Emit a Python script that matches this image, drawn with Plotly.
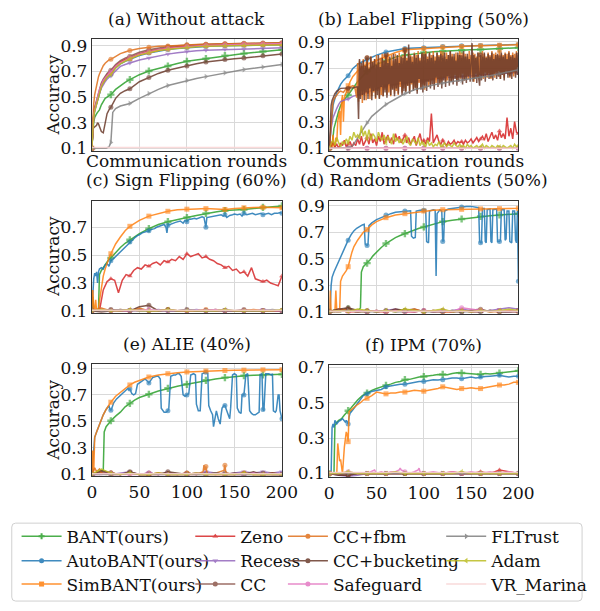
import plotly.graph_objects as go

W, H = 600, 611
FONT = "DejaVu Serif"

# ---------------- series definitions ----------------
NAMES = ["BANT(ours)", "AutoBANT(ours)", "SimBANT(ours)", "Zeno", "Recess", "CC",
         "CC+fbm", "CC+bucketing", "Safeguard", "FLTrust", "Adam", "VR_Marina"]
COLORS = ["#2ca02c", "#1f77b4", "#ff7f0e", "#d62728", "#9467bd", "#8c564b",
          "#e0701c", "#6b3b2c", "#e377c2", "#7f7f7f", "#bcbd22", "#f9d4d4"]
SYMBOLS = ["cross", "circle", "square", "triangle-up", "triangle-down", "circle",
           "circle", "circle", "circle", "triangle-right", "triangle-left", "cross-thin"]

PANEL_TITLES = ["(a) Without attack", "(b) Label Flipping (50%)", "(c) Sign Flipping (60%)",
                "(d) Random Gradients (50%)", "(e) ALIE (40%)", "(f) IPM (70%)"]
X_TICKS = [0, 50, 100, 150, 200]
Y_TICKS_DEFAULT = [0.1, 0.3, 0.5, 0.7, 0.9]
Y_TICKS_SHORT = [0.1, 0.3, 0.5, 0.7]

# ---------------- (a) Without attack ----------------
XA = [0, 1, 2, 3, 4, 5, 6, 7, 8, 10, 12, 14, 16, 18, 20, 25, 30, 35, 40, 50, 60, 70, 80, 90,
      100, 110, 120, 130, 140, 150, 160, 170, 180, 190, 200]
A_BANT = [0.10, 0.25, 0.31, 0.34, 0.36, 0.37, 0.38, 0.39, 0.40, 0.44, 0.47, 0.49, 0.50, 0.51,
          0.519, 0.56, 0.59, 0.615, 0.636, 0.675, 0.704, 0.725, 0.743, 0.762, 0.78, 0.79, 0.80,
          0.812, 0.824, 0.832, 0.84, 0.848, 0.857, 0.864, 0.87]
A_AUTO = [0.10, 0.28, 0.35, 0.39, 0.42, 0.45, 0.48, 0.51, 0.54, 0.58, 0.61, 0.635, 0.655, 0.668,
          0.678, 0.73, 0.76, 0.78, 0.795, 0.825, 0.845, 0.86, 0.872, 0.88, 0.887, 0.892, 0.896,
          0.899, 0.901, 0.903, 0.905, 0.906, 0.907, 0.908, 0.909]
A_SIM = [0.10, 0.30, 0.36, 0.40, 0.43, 0.46, 0.49, 0.52, 0.55, 0.59, 0.62, 0.645, 0.665, 0.68,
         0.69, 0.74, 0.77, 0.79, 0.80, 0.83, 0.85, 0.865, 0.877, 0.886, 0.893, 0.898, 0.902,
         0.905, 0.907, 0.909, 0.91, 0.911, 0.912, 0.913, 0.914]
A_ZENO = [0.10, 0.31, 0.37, 0.41, 0.44, 0.47, 0.50, 0.53, 0.56, 0.60, 0.63, 0.655, 0.675, 0.69,
          0.70, 0.745, 0.775, 0.795, 0.81, 0.84, 0.86, 0.875, 0.885, 0.893, 0.90, 0.905, 0.908,
          0.911, 0.913, 0.915, 0.916, 0.917, 0.918, 0.919, 0.92]
A_RECESS = [0.10, 0.30, 0.36, 0.40, 0.43, 0.46, 0.49, 0.51, 0.53, 0.57, 0.60, 0.62, 0.64, 0.655,
            0.665, 0.71, 0.74, 0.755, 0.767, 0.79, 0.806, 0.822, 0.836, 0.847, 0.857, 0.862,
            0.866, 0.869, 0.872, 0.874, 0.876, 0.878, 0.88, 0.882, 0.885]
A_CC = [0.10, 0.32, 0.38, 0.42, 0.45, 0.48, 0.51, 0.54, 0.57, 0.61, 0.64, 0.665, 0.685, 0.70,
        0.71, 0.755, 0.785, 0.805, 0.82, 0.85, 0.87, 0.885, 0.895, 0.902, 0.907, 0.911, 0.914,
        0.916, 0.918, 0.92, 0.921, 0.922, 0.923, 0.924, 0.925]
A_CCFBM = [0.10, 0.35, 0.45, 0.52, 0.56, 0.59, 0.63, 0.66, 0.68, 0.72, 0.745, 0.765, 0.78, 0.79,
           0.795, 0.82, 0.84, 0.853, 0.865, 0.88, 0.89, 0.897, 0.90, 0.905, 0.91, 0.912, 0.914,
           0.916, 0.917, 0.918, 0.919, 0.92, 0.921, 0.922, 0.923]
A_CCBUCK = [0.10, 0.25, 0.26, 0.265, 0.27, 0.28, 0.30, 0.29, 0.27, 0.23, 0.22, 0.30, 0.37, 0.40,
            0.42, 0.49, 0.53, 0.55, 0.565, 0.62, 0.654, 0.685, 0.71, 0.728, 0.743, 0.76, 0.775,
            0.785, 0.793, 0.80, 0.806, 0.815, 0.824, 0.83, 0.837]
A_SAFE = [0.10, 0.30, 0.36, 0.40, 0.44, 0.47, 0.50, 0.53, 0.56, 0.60, 0.63, 0.65, 0.67, 0.685,
          0.695, 0.74, 0.77, 0.79, 0.805, 0.835, 0.855, 0.87, 0.88, 0.888, 0.895, 0.90, 0.904,
          0.907, 0.91, 0.912, 0.914, 0.915, 0.916, 0.917, 0.918]
A_ADAM = [0.10, 0.29, 0.35, 0.39, 0.42, 0.45, 0.48, 0.51, 0.54, 0.58, 0.61, 0.635, 0.655, 0.665,
          0.675, 0.725, 0.76, 0.78, 0.80, 0.83, 0.85, 0.865, 0.875, 0.883, 0.89, 0.894, 0.897,
          0.90, 0.902, 0.903, 0.904, 0.905, 0.906, 0.907, 0.908]
XA_FL = [0, 5, 10, 15, 18, 20, 22, 25, 30, 35, 40, 50, 60, 70, 80, 90, 100, 110, 120, 130, 140,
         150, 160, 170, 180, 190, 200]
A_FLTRUST = [0.10, 0.10, 0.10, 0.10, 0.11, 0.145, 0.38, 0.41, 0.43, 0.44, 0.45, 0.49, 0.527,
             0.56, 0.59, 0.61, 0.63, 0.645, 0.66, 0.675, 0.69, 0.70, 0.715, 0.725, 0.735,
             0.745, 0.755]
X20 = [0, 20, 40, 60, 80, 100, 120, 140, 160, 180, 200]
A_VR = [0.105, 0.105, 0.105, 0.105, 0.105, 0.105, 0.105, 0.105, 0.105, 0.105, 0.105]

# ---------------- (b) Label Flipping ----------------
B_BANT_X = [0, 3, 5, 6, 8, 10, 12, 15, 20, 25, 30, 35, 40, 50, 60, 70, 80, 90, 100, 110, 120,
            130, 140, 150, 160, 170, 180, 190, 200]
B_BANT = [0.10, 0.12, 0.25, 0.28, 0.33, 0.38, 0.42, 0.46, 0.50, 0.55, 0.60, 0.64, 0.68, 0.73,
          0.76, 0.785, 0.80, 0.81, 0.82, 0.825, 0.83, 0.835, 0.837, 0.84, 0.842, 0.845, 0.848,
          0.852, 0.856]
B_AUTO_X = [0, 1, 2, 3, 4, 5, 6, 8, 10, 12, 15, 20, 25, 30, 35, 40, 50, 60, 70, 80, 90, 100,
            110, 120, 130, 140, 150, 160, 170, 180, 190, 200]
B_AUTO = [0.10, 0.20, 0.30, 0.38, 0.42, 0.45, 0.48, 0.52, 0.55, 0.58, 0.61, 0.645, 0.70, 0.73,
          0.75, 0.768, 0.80, 0.824, 0.838, 0.849, 0.853, 0.856, 0.86, 0.865, 0.868, 0.87, 0.872,
          0.873, 0.874, 0.875, 0.877, 0.88]
B_SIM_X = [0, 1, 2, 3, 4, 5, 6, 7, 8, 9, 10, 11, 12, 13, 14, 15, 16, 18, 20, 22, 25, 30, 35, 40,
           50, 60, 70, 80, 90, 100, 110, 120, 130, 140, 150, 160, 170, 180, 190, 200]
B_SIM = [0.10, 0.12, 0.15, 0.10, 0.20, 0.12, 0.10, 0.18, 0.15, 0.30, 0.35, 0.38, 0.20, 0.45,
         0.50, 0.30, 0.48, 0.52, 0.57, 0.60, 0.64, 0.68, 0.71, 0.73, 0.76, 0.79, 0.82, 0.84,
         0.845, 0.85, 0.855, 0.86, 0.862, 0.865, 0.868, 0.87, 0.872, 0.874, 0.876, 0.878]
X2 = list(range(0, 201, 2))
B_ZENO = [0.10, 0.12, 0.15, 0.11, 0.13, 0.10, 0.14, 0.12, 0.16, 0.11,
          0.13, 0.15, 0.11, 0.14, 0.12, 0.17, 0.13, 0.19, 0.12, 0.15,
          0.18, 0.13, 0.21, 0.14, 0.17, 0.12, 0.19, 0.15, 0.22, 0.13,
          0.17, 0.20, 0.14, 0.18, 0.13, 0.21, 0.16, 0.19, 0.14, 0.17,
          0.20, 0.14, 0.18, 0.13, 0.16, 0.19, 0.12, 0.17, 0.21, 0.14,
          0.16, 0.13, 0.18, 0.15, 0.36, 0.14, 0.17, 0.20, 0.15, 0.13,
          0.16, 0.14, 0.12, 0.15, 0.13, 0.14, 0.16, 0.13, 0.15, 0.14,
          0.15, 0.13, 0.16, 0.14, 0.15, 0.17, 0.14, 0.16, 0.18, 0.15,
          0.17, 0.19, 0.16, 0.21, 0.15, 0.18, 0.22, 0.17, 0.20, 0.16,
          0.23, 0.18, 0.21, 0.17, 0.33, 0.19, 0.25, 0.17, 0.30, 0.22,
          0.21]
B_ADAM = [0.10, 0.13, 0.16, 0.12, 0.18, 0.14, 0.11, 0.15, 0.13, 0.17,
          0.14, 0.19, 0.16, 0.22, 0.18, 0.20, 0.17, 0.27, 0.19, 0.23,
          0.17, 0.24, 0.16, 0.21, 0.19, 0.15, 0.22, 0.18, 0.16, 0.20,
          0.14, 0.19, 0.16, 0.13, 0.21, 0.15, 0.18, 0.14, 0.17, 0.13,
          0.16, 0.19, 0.14, 0.12, 0.17, 0.15, 0.13, 0.18, 0.12, 0.15,
          0.13, 0.11, 0.16, 0.12, 0.14, 0.11, 0.13, 0.12, 0.15, 0.11,
          0.12, 0.14, 0.11, 0.13, 0.12, 0.11, 0.14, 0.12, 0.11, 0.13,
          0.11, 0.12, 0.10, 0.13, 0.11, 0.12, 0.10, 0.11, 0.12, 0.10,
          0.11, 0.13, 0.10, 0.12, 0.11, 0.10, 0.12, 0.11, 0.10, 0.12,
          0.11, 0.10, 0.12, 0.11, 0.10, 0.11, 0.12, 0.10, 0.13, 0.11,
          0.12]
B_RECESS_X = [0, 2, 4, 6, 8, 10, 12, 15, 20, 25, 30, 40, 50, 60, 80, 100, 120, 140, 160, 180, 200]
B_RECESS = [0.10, 0.25, 0.33, 0.37, 0.40, 0.43, 0.45, 0.46, 0.47, 0.49, 0.50, 0.52, 0.55, 0.57,
            0.59, 0.61, 0.63, 0.64, 0.65, 0.655, 0.67]
B_FL_X = [0, 10, 20, 25, 30, 35, 40, 45, 50, 55, 60, 70, 80, 90, 100, 110, 120, 130, 140, 150,
          160, 170, 180, 190, 200]
B_FLTRUST = [0.10, 0.10, 0.10, 0.12, 0.18, 0.24, 0.29, 0.34, 0.37, 0.40, 0.43, 0.47, 0.51, 0.54,
             0.56, 0.575, 0.59, 0.60, 0.61, 0.62, 0.63, 0.645, 0.66, 0.675, 0.69]
B_FBM_X = [0, 1, 2, 3, 4, 5, 6, 8, 10, 12, 15, 18, 20, 22, 25, 27] + list(range(29, 200))
B_CCFBM = [0.10, 0.20, 0.33, 0.40, 0.45, 0.47, 0.48, 0.50, 0.52, 0.53, 0.52, 0.55, 0.53, 0.56,
           0.57, 0.56,
           0.48, 0.74, 0.45, 0.76, 0.49, 0.72, 0.44, 0.77, 0.50, 0.73,
           0.46, 0.78, 0.51, 0.71, 0.47, 0.79, 0.49, 0.74, 0.52, 0.77,
           0.47, 0.80, 0.53, 0.75, 0.48, 0.78, 0.50, 0.81, 0.49, 0.76,
           0.54, 0.79, 0.50, 0.82, 0.52, 0.77, 0.49, 0.80, 0.55, 0.76,
           0.51, 0.81, 0.53, 0.78, 0.50, 0.82, 0.56, 0.79, 0.52, 0.80,
           0.55, 0.83, 0.53, 0.78, 0.57, 0.82, 0.52, 0.80, 0.58, 0.79,
           0.54, 0.82, 0.56, 0.80, 0.53, 0.83, 0.59, 0.78, 0.55, 0.81,
           0.57, 0.80, 0.54, 0.83, 0.60, 0.79, 0.56, 0.82, 0.58, 0.80,
           0.61, 0.83, 0.57, 0.79, 0.59, 0.82, 0.62, 0.80, 0.58, 0.83,
           0.60, 0.81, 0.63, 0.79, 0.59, 0.82, 0.61, 0.80, 0.64, 0.83,
           0.60, 0.81, 0.62, 0.79, 0.65, 0.82, 0.61, 0.80, 0.63, 0.83,
           0.62, 0.80, 0.66, 0.82, 0.61, 0.81, 0.64, 0.79, 0.62, 0.83,
           0.65, 0.80, 0.63, 0.82, 0.60, 0.81, 0.66, 0.79, 0.63, 0.82,
           0.61, 0.80, 0.65, 0.83, 0.62, 0.81, 0.67, 0.79, 0.63, 0.82,
           0.66, 0.80, 0.62, 0.83, 0.65, 0.81, 0.63, 0.82, 0.67, 0.80,
           0.64, 0.83, 0.62, 0.81, 0.66, 0.80, 0.63, 0.82, 0.68, 0.81,
           0.65, 0.83, 0.63, 0.80, 0.67, 0.82, 0.64, 0.81, 0.66, 0.83,
           0.70]
B_BUCK_X = list(range(0, 10)) + [10, 12, 14, 16, 18, 20, 22, 24, 26, 28] + list(range(30, 201))
B_CCBUCK = [0.10, 0.32, 0.42, 0.46, 0.48, 0.50, 0.51, 0.52, 0.53, 0.53,
            0.54, 0.55, 0.55, 0.55, 0.55, 0.55, 0.555, 0.55, 0.555, 0.56,
            0.56, 0.32, 0.77, 0.47, 0.74, 0.50, 0.76, 0.46, 0.72, 0.52,
            0.78, 0.47, 0.70, 0.55, 0.79, 0.46, 0.75, 0.53, 0.77, 0.48,
            0.73, 0.50, 0.80, 0.47, 0.71, 0.56, 0.78, 0.49, 0.76, 0.52,
            0.80, 0.48, 0.74, 0.58, 0.79, 0.50, 0.72, 0.54, 0.81, 0.49,
            0.77, 0.55, 0.80, 0.51, 0.74, 0.60, 0.79, 0.50, 0.78, 0.53,
            0.84, 0.52, 0.76, 0.57, 0.88, 0.51, 0.79, 0.59, 0.75, 0.53,
            0.81, 0.55, 0.78, 0.51, 0.80, 0.62, 0.76, 0.54, 0.82, 0.52,
            0.79, 0.57, 0.81, 0.53, 0.77, 0.60, 0.82, 0.55, 0.78, 0.58,
            0.80, 0.54, 0.76, 0.63, 0.82, 0.56, 0.79, 0.59, 0.81, 0.55,
            0.78, 0.61, 0.82, 0.56, 0.77, 0.64, 0.80, 0.57, 0.83, 0.60,
            0.79, 0.58, 0.81, 0.62, 0.76, 0.57, 0.82, 0.60, 0.80, 0.63,
            0.78, 0.58, 0.83, 0.61, 0.79, 0.59, 0.81, 0.64, 0.77, 0.60,
            0.82, 0.89, 0.60, 0.80, 0.62, 0.78, 0.59, 0.82, 0.63, 0.57,
            0.80, 0.61, 0.79, 0.64, 0.82, 0.60, 0.78, 0.65, 0.81, 0.62,
            0.79, 0.63, 0.82, 0.61, 0.77, 0.66, 0.80, 0.62, 0.81, 0.64,
            0.78, 0.62, 0.82, 0.65, 0.79, 0.61, 0.81, 0.66, 0.77, 0.63,
            0.82, 0.64, 0.79, 0.62, 0.80, 0.67, 0.78, 0.63, 0.82, 0.65,
            0.80]
B_CC = [0.10, 0.10, 0.10, 0.10, 0.10, 0.10, 0.10, 0.10, 0.10, 0.10, 0.10]
B_SAFE = [0.10, 0.10, 0.10, 0.10, 0.10, 0.10, 0.10, 0.10, 0.10, 0.10, 0.10]
B_VR = [0.10, 0.10, 0.10, 0.10, 0.10, 0.10, 0.10, 0.10, 0.10, 0.10, 0.10]

# ---------------- low-level runs on a 10-round grid ----------------
X10 = list(range(0, 201, 10))

# ---------------- (c) Sign Flipping ----------------
C_SIM_X = [0, 1, 2, 3, 4, 5, 6, 7, 8, 9, 10, 12, 14, 16, 18, 20, 25, 30, 35, 40, 50, 60, 70, 80,
           90, 100, 110, 120, 130, 140, 150, 160, 170, 180, 190, 200]
C_SIM = [0.10, 0.25, 0.12, 0.10, 0.18, 0.10, 0.10, 0.12, 0.17, 0.22, 0.28, 0.35, 0.40, 0.45,
         0.48, 0.51, 0.58, 0.63, 0.675, 0.707, 0.75, 0.78, 0.80, 0.815, 0.825, 0.83, 0.832,
         0.834, 0.83, 0.828, 0.835, 0.84, 0.842, 0.843, 0.842, 0.84]
C_BANT_X = [0, 1, 2, 4, 6, 7, 8, 10, 12, 14, 16, 18, 20, 25, 30, 35, 40, 50, 60, 70, 80, 90, 100,
            110, 120, 130, 140, 150, 160, 170, 180, 190, 200]
C_BANT = [0.10, 0.20, 0.10, 0.10, 0.10, 0.11, 0.36, 0.39, 0.41, 0.43, 0.45, 0.47, 0.48, 0.52,
          0.555, 0.585, 0.61, 0.655, 0.69, 0.72, 0.74, 0.757, 0.77, 0.785, 0.80, 0.81, 0.82,
          0.823, 0.827, 0.835, 0.843, 0.848, 0.853]
C_AUTO_X = [0, 1, 2, 3, 4, 5, 6, 7, 8, 10, 12, 14, 16, 18, 20, 22, 25, 28, 30, 33, 36, 38, 40,
            43, 46, 48, 50, 53, 56, 58, 60, 63, 66, 68, 70, 72, 74, 76, 78, 79, 80, 83, 86, 88,
            90, 93, 96, 98, 100, 102, 105, 108, 110, 113, 116, 118, 120, 121, 124, 127, 130,
            133, 136, 138, 140, 142, 145, 148, 150, 153, 156, 158, 160, 163, 166, 169, 172,
            175, 178, 180, 183, 186, 189, 192, 195, 198, 200]
C_AUTO = [0.10, 0.25, 0.33, 0.37, 0.35, 0.38, 0.30, 0.38, 0.40, 0.41, 0.40, 0.43, 0.44, 0.42,
          0.46, 0.47, 0.49, 0.51, 0.53, 0.55, 0.57, 0.58, 0.595, 0.61, 0.63, 0.64, 0.645, 0.66,
          0.665, 0.67, 0.675, 0.685, 0.69, 0.70, 0.705, 0.71, 0.71, 0.72, 0.70, 0.66, 0.715,
          0.725, 0.73, 0.735, 0.74, 0.745, 0.73, 0.75, 0.74, 0.755, 0.76, 0.765, 0.76, 0.77,
          0.775, 0.77, 0.70, 0.77, 0.775, 0.78, 0.78, 0.785, 0.79, 0.78, 0.79, 0.77, 0.785,
          0.79, 0.795, 0.79, 0.795, 0.78, 0.80, 0.79, 0.795, 0.80, 0.79, 0.795, 0.80, 0.79,
          0.795, 0.80, 0.79, 0.80, 0.80, 0.805, 0.80]
X4 = list(range(0, 201, 4))
C_ZENO = [0.10, 0.10, 0.10, 0.25, 0.31, 0.33, 0.32, 0.23, 0.32, 0.36,
          0.35, 0.39, 0.41, 0.40, 0.43, 0.42, 0.44, 0.45, 0.43, 0.46,
          0.45, 0.47, 0.46, 0.49, 0.47, 0.51, 0.49, 0.50, 0.51, 0.48,
          0.49, 0.47, 0.46, 0.44, 0.43, 0.41, 0.42, 0.39, 0.40, 0.37,
          0.38, 0.35, 0.41, 0.33, 0.32, 0.31, 0.32, 0.30, 0.29, 0.28,
          0.35]
C_RECESS = [0.10, 0.11, 0.10, 0.10, 0.11, 0.10, 0.10, 0.11, 0.10, 0.10,
            0.10, 0.11, 0.10, 0.10, 0.11, 0.10, 0.10, 0.10, 0.11, 0.10, 0.10]
C_CC = [0.10, 0.09, 0.10, 0.10, 0.10, 0.11, 0.10, 0.10, 0.10, 0.10,
        0.11, 0.10, 0.10, 0.10, 0.10, 0.10, 0.11, 0.10, 0.10, 0.10, 0.10]
C_CCFBM = [0.10, 0.12, 0.10, 0.11, 0.10, 0.12, 0.10, 0.10, 0.11, 0.10,
           0.10, 0.10, 0.11, 0.10, 0.10, 0.10, 0.10, 0.11, 0.10, 0.10, 0.10]
C_CCBUCK = [0.10, 0.10, 0.11, 0.10, 0.10, 0.13, 0.14, 0.10, 0.11, 0.10,
            0.10, 0.10, 0.10, 0.11, 0.10, 0.10, 0.10, 0.10, 0.10, 0.10, 0.10]
C_SAFE = [0.10, 0.11, 0.10, 0.10, 0.10, 0.10, 0.11, 0.10, 0.10, 0.10,
          0.10, 0.10, 0.10, 0.11, 0.10, 0.10, 0.10, 0.10, 0.10, 0.10, 0.10]
C_FLTRUST = [0.10, 0.10, 0.10, 0.11, 0.10, 0.10, 0.10, 0.10, 0.10, 0.10,
             0.11, 0.10, 0.10, 0.10, 0.10, 0.10, 0.10, 0.10, 0.10, 0.11, 0.10]
C_ADAM = [0.10, 0.11, 0.10, 0.10, 0.11, 0.10, 0.10, 0.10, 0.11, 0.10,
          0.10, 0.10, 0.10, 0.10, 0.11, 0.10, 0.10, 0.10, 0.10, 0.10, 0.11]
C_VR = [0.105, 0.105, 0.105, 0.105, 0.105, 0.105, 0.105, 0.105, 0.105, 0.105,
        0.105, 0.105, 0.105, 0.105, 0.105, 0.105, 0.105, 0.105, 0.105, 0.105, 0.105]

# ---------------- (d) Random Gradients ----------------
D_AUTO_PTS = [(0, 0.10), (1, 0.12), (2, 0.30), (3, 0.36), (5, 0.40), (8, 0.45), (10, 0.48),
              (12, 0.52), (15, 0.57), (18, 0.62), (20, 0.64), (23, 0.68), (26, 0.71), (29, 0.73),
              (32, 0.745), (35, 0.755), (37, 0.76), (38, 0.61), (40, 0.60), (41, 0.61),
              (42, 0.75), (45, 0.77), (50, 0.795), (55, 0.81), (60, 0.83), (65, 0.84), (70, 0.85),
              (75, 0.855), (80, 0.86), (86, 0.862), (87, 0.67), (89, 0.655), (91, 0.66),
              (92, 0.86), (96, 0.865), (100, 0.865), (102, 0.87), (103, 0.63), (105, 0.62),
              (106, 0.86), (110, 0.87), (112, 0.865), (113, 0.37), (114, 0.84), (117, 0.87),
              (119, 0.86), (120, 0.63), (121, 0.64), (122, 0.86), (126, 0.875), (130, 0.88),
              (135, 0.885), (140, 0.89), (145, 0.895), (150, 0.895), (155, 0.89), (158, 0.885),
              (159, 0.63), (160, 0.62), (161, 0.62), (162, 0.88), (164, 0.88), (165, 0.63),
              (166, 0.62), (167, 0.87), (170, 0.875), (171, 0.63), (172, 0.62), (173, 0.87),
              (177, 0.875), (178, 0.63), (180, 0.63), (181, 0.64), (182, 0.87), (185, 0.87),
              (186, 0.64), (187, 0.65), (188, 0.86), (190, 0.86), (191, 0.63), (193, 0.62),
              (194, 0.86), (196, 0.86), (197, 0.64), (198, 0.62), (199, 0.86), (200, 0.33)]
D_SIM_PTS = [(0, 0.10), (1, 0.26), (2, 0.10), (3, 0.10), (5, 0.10), (6, 0.10), (7, 0.26),
             (8, 0.10), (10, 0.10), (11, 0.10), (12, 0.33), (13, 0.35), (14, 0.37), (16, 0.39),
             (18, 0.41), (20, 0.44), (22, 0.50), (24, 0.55), (26, 0.59), (28, 0.62), (30, 0.64),
             (33, 0.67), (36, 0.70), (40, 0.72), (45, 0.755), (50, 0.78), (55, 0.795),
             (60, 0.81), (70, 0.83), (80, 0.84), (90, 0.85), (100, 0.86), (110, 0.865),
             (120, 0.87), (130, 0.872), (140, 0.873), (150, 0.875), (160, 0.876), (170, 0.877),
             (180, 0.878), (190, 0.879), (200, 0.88)]
D_BANT_PTS = [(0, 0.10), (4, 0.11), (8, 0.12), (12, 0.10), (16, 0.11), (20, 0.12), (24, 0.11),
              (28, 0.10), (32, 0.12), (33, 0.13), (34, 0.40), (36, 0.44), (38, 0.455),
              (40, 0.467), (43, 0.49), (46, 0.52), (50, 0.55), (55, 0.585), (60, 0.615),
              (65, 0.64), (70, 0.66), (75, 0.675), (80, 0.69), (85, 0.705), (90, 0.72),
              (95, 0.73), (100, 0.74), (110, 0.76), (120, 0.78), (130, 0.79), (140, 0.80),
              (150, 0.81), (160, 0.82), (170, 0.825), (180, 0.83), (190, 0.835), (200, 0.84)]
D_ZENO = [0.10, 0.11, 0.10, 0.10, 0.11, 0.10, 0.10, 0.11, 0.10, 0.10,
          0.11, 0.10, 0.10, 0.10, 0.11, 0.10, 0.10, 0.11, 0.10, 0.10, 0.10]
D_RECESS = [0.10, 0.12, 0.11, 0.10, 0.11, 0.10, 0.11, 0.12, 0.10, 0.11,
            0.10, 0.11, 0.10, 0.11, 0.12, 0.11, 0.10, 0.11, 0.12, 0.13, 0.12]
D_CC = [0.10, 0.11, 0.12, 0.10, 0.11, 0.10, 0.11, 0.10, 0.11, 0.12,
        0.10, 0.11, 0.10, 0.11, 0.10, 0.11, 0.12, 0.10, 0.11, 0.10, 0.11]
D_CCFBM = [0.10, 0.12, 0.11, 0.10, 0.10, 0.11, 0.10, 0.11, 0.10, 0.12,
           0.10, 0.11, 0.10, 0.10, 0.11, 0.10, 0.11, 0.10, 0.10, 0.11, 0.10]
D_CCBUCK = [0.10, 0.12, 0.13, 0.11, 0.10, 0.11, 0.10, 0.12, 0.11, 0.10,
            0.11, 0.10, 0.11, 0.10, 0.10, 0.11, 0.10, 0.11, 0.10, 0.10, 0.11]
D_SAFE = [0.10, 0.11, 0.10, 0.11, 0.10, 0.11, 0.10, 0.11, 0.10, 0.10,
          0.11, 0.10, 0.11, 0.10, 0.13, 0.12, 0.11, 0.10, 0.11, 0.10, 0.11]
D_FLTRUST = [0.10, 0.10, 0.11, 0.10, 0.10, 0.10, 0.11, 0.10, 0.10, 0.11,
             0.10, 0.10, 0.10, 0.11, 0.10, 0.10, 0.10, 0.11, 0.10, 0.10, 0.10]
D_ADAM = [0.10, 0.11, 0.10, 0.12, 0.11, 0.10, 0.11, 0.10, 0.12, 0.11,
          0.10, 0.11, 0.12, 0.10, 0.11, 0.10, 0.11, 0.10, 0.11, 0.12, 0.11]
D_VR = [0.105, 0.105, 0.105, 0.105, 0.105, 0.105, 0.105, 0.105, 0.105, 0.105,
        0.105, 0.105, 0.105, 0.105, 0.105, 0.105, 0.105, 0.105, 0.105, 0.105, 0.105]

# ---------------- (e) ALIE ----------------
E_SIM_PTS = [(0, 0.10), (1, 0.28), (2, 0.12), (3, 0.38), (5, 0.42), (8, 0.48), (10, 0.52),
             (12, 0.55), (15, 0.59), (18, 0.625), (20, 0.645), (25, 0.69), (30, 0.72),
             (35, 0.75), (40, 0.775), (45, 0.795), (50, 0.81), (55, 0.825), (60, 0.835),
             (70, 0.85), (80, 0.86), (90, 0.867), (100, 0.873), (110, 0.877), (120, 0.88),
             (130, 0.882), (140, 0.884), (150, 0.886), (160, 0.887), (170, 0.888), (180, 0.889),
             (190, 0.89), (200, 0.89)]
E_AUTO_PTS = [(0, 0.10), (1, 0.20), (2, 0.30), (3, 0.38), (5, 0.42), (8, 0.48), (10, 0.52),
              (12, 0.55), (15, 0.59), (18, 0.62), (19, 0.59), (20, 0.585), (21, 0.60), (23, 0.64),
              (26, 0.67), (30, 0.70), (35, 0.73), (38, 0.75), (39, 0.74), (40, 0.745), (42, 0.71),
              (44, 0.70), (46, 0.71), (48, 0.78), (52, 0.80), (56, 0.82), (59, 0.80), (60, 0.79),
              (61, 0.80), (64, 0.83), (68, 0.84), (70, 0.84), (72, 0.82), (73, 0.60), (76, 0.57),
              (78, 0.57), (80, 0.58), (81, 0.60), (83, 0.84), (86, 0.85), (88, 0.85), (90, 0.86),
              (92, 0.86), (94, 0.84), (96, 0.70), (98, 0.69), (100, 0.70), (102, 0.71),
              (104, 0.85), (107, 0.86), (109, 0.85), (110, 0.63), (112, 0.58), (114, 0.58),
              (116, 0.86), (118, 0.865), (120, 0.87), (122, 0.86), (123, 0.62), (125, 0.58),
              (127, 0.55), (128, 0.46), (129, 0.50), (130, 0.55), (131, 0.58), (133, 0.52),
              (135, 0.48), (136, 0.55), (137, 0.60), (139, 0.62), (140, 0.62), (141, 0.60),
              (143, 0.55), (145, 0.52), (146, 0.60), (148, 0.85), (150, 0.86), (152, 0.85),
              (153, 0.60), (155, 0.57), (157, 0.56), (158, 0.70), (160, 0.70), (162, 0.85),
              (164, 0.86), (165, 0.75), (166, 0.58), (168, 0.56), (170, 0.55), (172, 0.55),
              (174, 0.56), (176, 0.57), (177, 0.85), (179, 0.86), (180, 0.59), (181, 0.58),
              (183, 0.86), (186, 0.86), (189, 0.85), (190, 0.86), (191, 0.58), (193, 0.57),
              (194, 0.58), (196, 0.70), (197, 0.70), (198, 0.58), (200, 0.52)]
E_BANT_PTS = [(0, 0.10), (4, 0.11), (8, 0.10), (10, 0.12), (12, 0.13), (13, 0.42), (15, 0.46),
              (18, 0.49), (20, 0.505), (25, 0.54), (30, 0.57), (35, 0.61), (40, 0.636),
              (45, 0.66), (50, 0.68), (55, 0.695), (60, 0.705), (70, 0.73), (80, 0.75),
              (90, 0.765), (100, 0.78), (110, 0.795), (120, 0.81), (130, 0.82), (140, 0.83),
              (150, 0.838), (160, 0.845), (170, 0.848), (180, 0.85), (190, 0.853), (200, 0.855)]
E_CCFBM_PTS = [(0, 0.10), (3, 0.15), (5, 0.12), (8, 0.14), (10, 0.11), (15, 0.10), (20, 0.11),
               (30, 0.10), (40, 0.11), (50, 0.10), (60, 0.10), (70, 0.11), (80, 0.10), (90, 0.10),
               (100, 0.11), (110, 0.10), (117, 0.12), (118, 0.17), (119, 0.13), (120, 0.16),
               (121, 0.12), (122, 0.10), (130, 0.11), (139, 0.13), (140, 0.17), (141, 0.11),
               (150, 0.10), (160, 0.11), (170, 0.10), (180, 0.10), (190, 0.11), (200, 0.10)]
E_ZENO = [0.10, 0.11, 0.10, 0.10, 0.11, 0.10, 0.10, 0.10, 0.11, 0.10,
          0.10, 0.10, 0.11, 0.10, 0.10, 0.10, 0.11, 0.10, 0.10, 0.10, 0.10]
E_RECESS = [0.10, 0.11, 0.10, 0.11, 0.12, 0.10, 0.11, 0.10, 0.11, 0.10,
            0.11, 0.10, 0.12, 0.11, 0.10, 0.11, 0.12, 0.11, 0.12, 0.11, 0.12]
E_CC = [0.10, 0.12, 0.11, 0.10, 0.11, 0.10, 0.10, 0.11, 0.10, 0.10,
        0.11, 0.10, 0.10, 0.10, 0.11, 0.10, 0.10, 0.10, 0.11, 0.10, 0.10]
E_CCBUCK = [0.10, 0.13, 0.11, 0.10, 0.12, 0.10, 0.11, 0.10, 0.12, 0.11,
            0.10, 0.11, 0.10, 0.11, 0.10, 0.11, 0.10, 0.12, 0.10, 0.11, 0.10]
E_SAFE = [0.10, 0.10, 0.11, 0.10, 0.10, 0.10, 0.11, 0.10, 0.10, 0.10,
          0.10, 0.11, 0.10, 0.10, 0.10, 0.10, 0.10, 0.11, 0.10, 0.10, 0.10]
E_FLTRUST = [0.10, 0.10, 0.10, 0.10, 0.11, 0.10, 0.10, 0.10, 0.10, 0.10,
             0.10, 0.10, 0.10, 0.11, 0.10, 0.10, 0.10, 0.10, 0.10, 0.10, 0.10]
E_ADAM = [0.10, 0.14, 0.11, 0.10, 0.11, 0.10, 0.10, 0.11, 0.10, 0.10,
          0.10, 0.11, 0.10, 0.10, 0.10, 0.10, 0.11, 0.10, 0.10, 0.10, 0.10]
E_VR = [0.105, 0.105, 0.105, 0.105, 0.105, 0.105, 0.105, 0.105, 0.105, 0.105,
        0.105, 0.105, 0.105, 0.105, 0.105, 0.105, 0.105, 0.105, 0.105, 0.105, 0.105]

# ---------------- (f) IPM ----------------
F_BANT_PTS = [(0, 0.10), (3, 0.10), (5, 0.10), (6, 0.37), (8, 0.39), (10, 0.40), (13, 0.41),
              (16, 0.43), (18, 0.445), (20, 0.455), (23, 0.47), (26, 0.49), (30, 0.515),
              (35, 0.54), (40, 0.555), (45, 0.57), (50, 0.58), (55, 0.59), (60, 0.598),
              (65, 0.605), (70, 0.615), (75, 0.62), (80, 0.63), (85, 0.632), (90, 0.64),
              (95, 0.645), (100, 0.648), (105, 0.65), (110, 0.655), (115, 0.66), (120, 0.66),
              (125, 0.658), (130, 0.665), (135, 0.67), (140, 0.668), (145, 0.665), (150, 0.662),
              (155, 0.66), (160, 0.66), (165, 0.665), (170, 0.662), (175, 0.665), (180, 0.668),
              (185, 0.672), (190, 0.678), (195, 0.68), (200, 0.68)]
F_AUTO_PTS = [(0, 0.10), (2, 0.10), (3, 0.36), (4, 0.38), (5, 0.36), (6, 0.40), (7, 0.39),
              (8, 0.38), (10, 0.395), (12, 0.40), (14, 0.41), (16, 0.40), (17, 0.39), (18, 0.40),
              (19, 0.39), (20, 0.38), (21, 0.42), (22, 0.44), (25, 0.46), (28, 0.48), (30, 0.495),
              (33, 0.52), (36, 0.54), (40, 0.55), (43, 0.56), (46, 0.565), (50, 0.57),
              (55, 0.575), (60, 0.59), (65, 0.595), (70, 0.60), (75, 0.605), (80, 0.605),
              (85, 0.61), (90, 0.615), (95, 0.62), (100, 0.62), (105, 0.625), (110, 0.63),
              (115, 0.628), (120, 0.63), (125, 0.635), (130, 0.64), (135, 0.64), (140, 0.635),
              (145, 0.64), (150, 0.645), (155, 0.64), (160, 0.645), (165, 0.648), (170, 0.65),
              (175, 0.652), (180, 0.655), (185, 0.65), (190, 0.645), (195, 0.65), (200, 0.65)]
F_SIM_PTS = [(0, 0.10), (4, 0.10), (8, 0.10), (9, 0.27), (10, 0.22), (11, 0.17), (12, 0.18),
             (13, 0.12), (14, 0.10), (16, 0.25), (17, 0.30), (18, 0.335), (19, 0.32), (20, 0.28),
             (21, 0.45), (23, 0.46), (25, 0.47), (28, 0.48), (30, 0.49), (33, 0.50), (36, 0.515),
             (40, 0.525), (45, 0.54), (50, 0.56), (55, 0.555), (60, 0.55), (65, 0.555),
             (70, 0.555), (75, 0.56), (80, 0.56), (85, 0.565), (90, 0.57), (95, 0.568),
             (100, 0.565), (105, 0.57), (110, 0.575), (115, 0.58), (120, 0.59), (125, 0.585),
             (130, 0.58), (135, 0.575), (140, 0.58), (145, 0.58), (150, 0.585), (155, 0.58),
             (160, 0.58), (165, 0.585), (170, 0.59), (175, 0.595), (180, 0.60), (185, 0.60),
             (190, 0.605), (195, 0.615), (200, 0.615)]
F_SAFE_PTS = [(0, 0.10), (10, 0.10), (20, 0.11), (30, 0.10), (40, 0.10), (45, 0.11), (48, 0.12),
              (50, 0.10), (55, 0.11), (60, 0.10), (65, 0.11), (70, 0.11), (74, 0.12), (75, 0.13),
              (76, 0.12), (80, 0.11), (85, 0.10), (90, 0.11), (94, 0.12), (95, 0.13), (96, 0.11),
              (100, 0.10), (110, 0.11), (120, 0.10), (130, 0.11), (140, 0.10), (150, 0.11),
              (160, 0.10), (170, 0.11), (180, 0.10), (190, 0.11), (200, 0.10)]
F_ZENO = [0.10, 0.10, 0.10, 0.10, 0.10, 0.10, 0.10, 0.10, 0.10, 0.10,
          0.10, 0.10, 0.10, 0.11, 0.10, 0.10, 0.11, 0.10, 0.12, 0.11, 0.10]
F_RECESS = [0.10, 0.09, 0.085, 0.09, 0.10, 0.10, 0.10, 0.10, 0.10, 0.10,
            0.10, 0.10, 0.10, 0.10, 0.10, 0.10, 0.10, 0.10, 0.10, 0.10, 0.10]
F_CC = [0.10, 0.095, 0.09, 0.10, 0.10, 0.10, 0.10, 0.10, 0.10, 0.10,
        0.10, 0.10, 0.10, 0.10, 0.10, 0.10, 0.10, 0.10, 0.10, 0.10, 0.10]
F_CCFBM = [0.10, 0.10, 0.10, 0.10, 0.10, 0.10, 0.10, 0.10, 0.10, 0.10,
           0.10, 0.10, 0.10, 0.10, 0.10, 0.10, 0.10, 0.10, 0.10, 0.10, 0.10]
F_CCBUCK = [0.10, 0.09, 0.09, 0.10, 0.10, 0.10, 0.10, 0.10, 0.10, 0.10,
            0.10, 0.10, 0.10, 0.10, 0.10, 0.10, 0.10, 0.10, 0.10, 0.10, 0.10]
F_FLTRUST = [0.10, 0.10, 0.10, 0.10, 0.10, 0.10, 0.10, 0.10, 0.10, 0.10,
             0.10, 0.10, 0.10, 0.10, 0.10, 0.10, 0.10, 0.10, 0.10, 0.10, 0.10]
F_ADAM = [0.10, 0.10, 0.11, 0.10, 0.10, 0.10, 0.10, 0.11, 0.10, 0.10,
          0.10, 0.10, 0.10, 0.10, 0.11, 0.10, 0.10, 0.10, 0.10, 0.10, 0.10]
F_VR = [0.105, 0.105, 0.105, 0.105, 0.105, 0.105, 0.105, 0.105, 0.105, 0.105,
        0.105, 0.105, 0.105, 0.105, 0.105, 0.105, 0.105, 0.105, 0.105, 0.105, 0.105]


def pts(p):
    return [a for a, _ in p], [b for _, b in p]


PANELS = [
    {"BANT(ours)": (XA, A_BANT), "AutoBANT(ours)": (XA, A_AUTO), "SimBANT(ours)": (XA, A_SIM),
     "Zeno": (XA, A_ZENO), "Recess": (XA, A_RECESS), "CC": (XA, A_CC), "CC+fbm": (XA, A_CCFBM),
     "CC+bucketing": (XA, A_CCBUCK), "Safeguard": (XA, A_SAFE), "FLTrust": (XA_FL, A_FLTRUST),
     "Adam": (XA, A_ADAM), "VR_Marina": (X20, A_VR)},
    {"BANT(ours)": (B_BANT_X, B_BANT), "AutoBANT(ours)": (B_AUTO_X, B_AUTO),
     "SimBANT(ours)": (B_SIM_X, B_SIM), "Zeno": (X2, B_ZENO), "Recess": (B_RECESS_X, B_RECESS),
     "CC": (X20, B_CC), "CC+fbm": (B_FBM_X, B_CCFBM), "CC+bucketing": (B_BUCK_X, B_CCBUCK),
     "Safeguard": (X20, B_SAFE), "FLTrust": (B_FL_X, B_FLTRUST), "Adam": (X2, B_ADAM),
     "VR_Marina": (X20, B_VR)},
    {"BANT(ours)": (C_BANT_X, C_BANT), "AutoBANT(ours)": (C_AUTO_X, C_AUTO),
     "SimBANT(ours)": (C_SIM_X, C_SIM), "Zeno": (X4, C_ZENO), "Recess": (X10, C_RECESS),
     "CC": (X10, C_CC), "CC+fbm": (X10, C_CCFBM), "CC+bucketing": (X10, C_CCBUCK),
     "Safeguard": (X10, C_SAFE), "FLTrust": (X10, C_FLTRUST), "Adam": (X10, C_ADAM),
     "VR_Marina": (X10, C_VR)},
    {"BANT(ours)": pts(D_BANT_PTS), "AutoBANT(ours)": pts(D_AUTO_PTS),
     "SimBANT(ours)": pts(D_SIM_PTS), "Zeno": (X10, D_ZENO), "Recess": (X10, D_RECESS),
     "CC": (X10, D_CC), "CC+fbm": (X10, D_CCFBM), "CC+bucketing": (X10, D_CCBUCK),
     "Safeguard": (X10, D_SAFE), "FLTrust": (X10, D_FLTRUST), "Adam": (X10, D_ADAM),
     "VR_Marina": (X10, D_VR)},
    {"BANT(ours)": pts(E_BANT_PTS), "AutoBANT(ours)": pts(E_AUTO_PTS),
     "SimBANT(ours)": pts(E_SIM_PTS), "Zeno": (X10, E_ZENO), "Recess": (X10, E_RECESS),
     "CC": (X10, E_CC), "CC+fbm": pts(E_CCFBM_PTS), "CC+bucketing": (X10, E_CCBUCK),
     "Safeguard": (X10, E_SAFE), "FLTrust": (X10, E_FLTRUST), "Adam": (X10, E_ADAM),
     "VR_Marina": (X10, E_VR)},
    {"BANT(ours)": pts(F_BANT_PTS), "AutoBANT(ours)": pts(F_AUTO_PTS),
     "SimBANT(ours)": pts(F_SIM_PTS), "Zeno": (X10, F_ZENO), "Recess": (X10, F_RECESS),
     "CC": (X10, F_CC), "CC+fbm": (X10, F_CCFBM), "CC+bucketing": (X10, F_CCBUCK),
     "Safeguard": pts(F_SAFE_PTS), "FLTrust": (X10, F_FLTRUST), "Adam": (X10, F_ADAM),
     "VR_Marina": (X10, F_VR)},
]

# ---------------- layout constants (pixels) ----------------
DOMS = [((90, 287), (32, 147)), ((336, 532), (32, 147)),
        ((90, 287), (198, 313)), ((336, 532), (198, 314)),
        ((90, 287), (366, 481)), ((336, 532), (367, 482))]
YRANGES = [[0.077, 0.953], [0.078, 0.92], [0.086, 0.89], [0.085, 0.937], [0.085, 0.93],
           [0.078, 0.711]]
YTICKS = [Y_TICKS_DEFAULT, Y_TICKS_DEFAULT, Y_TICKS_SHORT, Y_TICKS_DEFAULT, Y_TICKS_DEFAULT,
          Y_TICKS_SHORT]
LW = 1.5
MSIZE = 5
OPAC = 0.85
AXC = "#333333"
GRIDC = "#d9d9d9"
TXT = "#111111"

fig = go.Figure()

for k, panel in enumerate(PANELS, start=1):
    xref = "x" if k == 1 else f"x{k}"
    yref = "y" if k == 1 else f"y{k}"
    for i, name in enumerate(NAMES):
        xs, ys = panel[name]
        if len(xs) != len(ys):
            raise ValueError(f"panel {k} {name}: {len(xs)} x vs {len(ys)} y")
        sizes = [(MSIZE + 1 if SYMBOLS[i] == "cross" else MSIZE) if x % 20 == 0 else 0 for x in xs]
        fig.add_trace(go.Scatter(
            x=xs, y=ys, mode="lines+markers", xaxis=xref, yaxis=yref,
            line=dict(color=COLORS[i], width=LW),
            marker=dict(symbol=SYMBOLS[i], size=sizes, color=COLORS[i], line=dict(width=0)),
            opacity=OPAC, showlegend=False, hoverinfo="skip"))

# legend entries (one small legend per entry, arranged 4 columns x 3 rows)
LEG_TEXT_X = [62, 242, 338, 502]
LEG_ROW_Y = [543, 568, 592]
ITEMW = 40
TEXT_OFFSET = ITEMW + 10
layout_legends = {}
for i, name in enumerate(NAMES):
    col, row = i // 3, i % 3
    lid = "legend" if i == 0 else f"legend{i + 1}"
    fig.add_trace(go.Scatter(
        x=[None], y=[None], mode="lines+markers", name=name, legend=lid,
        line=dict(color=COLORS[i], width=LW),
        marker=dict(symbol=SYMBOLS[i], size=MSIZE, color=COLORS[i], line=dict(width=0)),
        opacity=OPAC, showlegend=True, hoverinfo="skip"))
    origin = LEG_TEXT_X[col] - TEXT_OFFSET
    layout_legends[lid] = dict(
        x=origin / W, y=1 - LEG_ROW_Y[row] / H, xanchor="left", yanchor="middle",
        bgcolor="rgba(0,0,0,0)", borderwidth=0, itemwidth=ITEMW,
        font=dict(family=FONT, size=17, color=TXT), itemclick=False, itemdoubleclick=False)

layout = dict(width=W, height=H, margin=dict(l=0, r=0, t=0, b=0),
              paper_bgcolor="white", plot_bgcolor="white", showlegend=True)
layout.update(layout_legends)

annotations = []
for k, ((x0, x1), (y0, y1)) in enumerate(DOMS, start=1):
    xa = "xaxis" if k == 1 else f"xaxis{k}"
    ya = "yaxis" if k == 1 else f"yaxis{k}"
    xanchor = "y" if k == 1 else f"y{k}"
    yanchor = "x" if k == 1 else f"x{k}"
    layout[xa] = dict(domain=[x0 / W, x1 / W], range=[0, 200], anchor=xanchor,
                      tickvals=X_TICKS, showticklabels=k >= 5, ticks="",
                      showgrid=True, gridcolor=GRIDC, gridwidth=1, zeroline=False,
                      showline=True, linecolor=AXC, linewidth=1, mirror=True,
                      tickfont=dict(family=FONT, size=17, color=TXT))
    layout[ya] = dict(domain=[1 - y1 / H, 1 - y0 / H], range=YRANGES[k - 1], anchor=yanchor,
                      tickvals=YTICKS[k - 1], tickformat=".1f", ticks="",
                      showgrid=True, gridcolor=GRIDC, gridwidth=1, zeroline=False,
                      showline=True, linecolor=AXC, linewidth=1, mirror=True,
                      tickfont=dict(family=FONT, size=17, color=TXT))
    cx = (x0 + x1) / 2
    annotations.append(dict(text=PANEL_TITLES[k - 1], x=cx / W, y=1 - (y0 - 21) / H,
                            xref="paper", yref="paper", showarrow=False,
                            xanchor="center", yanchor="middle",
                            font=dict(family=FONT, size=17, color=TXT)))
    if k <= 2:
        annotations.append(dict(text="Communication rounds", x=cx / W, y=1 - (y1 + 10) / H,
                                xref="paper", yref="paper", showarrow=False,
                                xanchor="center", yanchor="middle",
                                font=dict(family=FONT, size=17, color=TXT)))
    if k % 2 == 1:
        annotations.append(dict(text="Accuracy", x=50 / W, y=1 - ((y0 + y1) / 2) / H,
                                xref="paper", yref="paper", showarrow=False, textangle=-90,
                                xanchor="center", yanchor="middle",
                                font=dict(family=FONT, size=17, color=TXT)))

layout["annotations"] = annotations

# legend frame (rounded rectangle)
lx0, ly0, lx1, ly1, r = 7, 529, 598, 609, 4


def PX(v):
    return v / W


def PY(v):
    return 1 - v / H


path = (f"M {PX(lx0 + r)},{PY(ly0)} L {PX(lx1 - r)},{PY(ly0)} "
        f"Q {PX(lx1)},{PY(ly0)} {PX(lx1)},{PY(ly0 + r)} L {PX(lx1)},{PY(ly1 - r)} "
        f"Q {PX(lx1)},{PY(ly1)} {PX(lx1 - r)},{PY(ly1)} L {PX(lx0 + r)},{PY(ly1)} "
        f"Q {PX(lx0)},{PY(ly1)} {PX(lx0)},{PY(ly1 - r)} L {PX(lx0)},{PY(ly0 + r)} "
        f"Q {PX(lx0)},{PY(ly0)} {PX(lx0 + r)},{PY(ly0)} Z")
layout["shapes"] = [dict(type="path", path=path, xref="paper", yref="paper",
                         line=dict(color="#d0d0d0", width=1), fillcolor="rgba(255,255,255,0.8)",
                         layer="below")]

fig.update_layout(**layout)
fig.write_html("out.html", config={"displayModeBar": False},
               post_script="document.body.style.margin='0px';"
                           "document.body.style.overflow='hidden';")
